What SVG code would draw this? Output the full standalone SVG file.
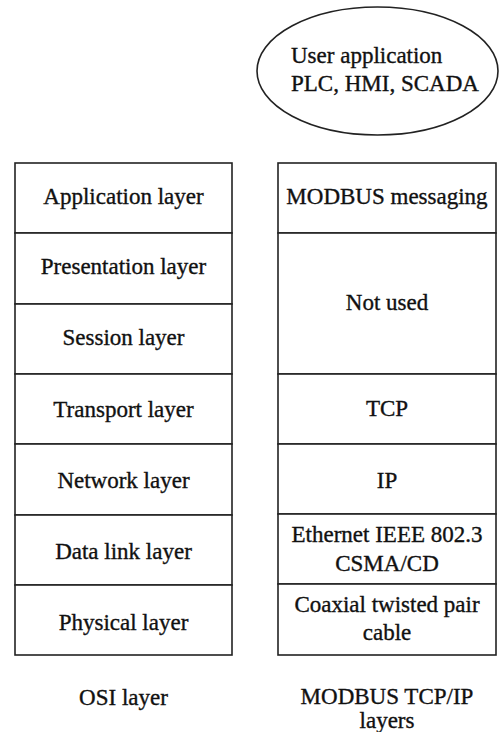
<svg xmlns="http://www.w3.org/2000/svg" width="499" height="732" viewBox="0 0 499 732">
<style>
.b{fill:#fff;stroke:#222;stroke-width:1.6}
text{font-family:'Liberation Serif','DejaVu Serif',serif;font-size:23px;fill:#111;stroke:#111;stroke-width:0.35;text-anchor:middle}
text.l{text-anchor:start}
</style>
<rect width="499" height="732" fill="#fff"/>
<g id="user-app">
<ellipse class="b" cx="377.5" cy="71" rx="120.5" ry="64"/>
<text class="l" x="291" y="63">User application</text>
<text class="l" x="291" y="91">PLC, HMI, SCADA</text>
</g>
<g id="osi">
<g id="osi-app"><rect class="b" x="15" y="163" width="217" height="70"/><text x="123.5" y="204">Application layer</text></g>
<g id="osi-pres"><rect class="b" x="15" y="233" width="217" height="71"/><text x="123.5" y="274">Presentation layer</text></g>
<g id="osi-sess"><rect class="b" x="15" y="304" width="217" height="70"/><text x="123.5" y="345">Session layer</text></g>
<g id="osi-trans"><rect class="b" x="15" y="374" width="217" height="70"/><text x="123.5" y="417">Transport layer</text></g>
<g id="osi-net"><rect class="b" x="15" y="444" width="217" height="71"/><text x="123.5" y="488">Network layer</text></g>
<g id="osi-dl"><rect class="b" x="15" y="515" width="217" height="70"/><text x="123.5" y="559">Data link layer</text></g>
<g id="osi-phy"><rect class="b" x="15" y="585" width="217" height="70"/><text x="123.5" y="630">Physical layer</text></g>
<text x="123.5" y="705">OSI layer</text>
</g>
<g id="modbus">
<g id="mb-msg"><rect class="b" x="278" y="163" width="218" height="70"/><text x="387" y="204">MODBUS messaging</text></g>
<g id="mb-notused"><rect class="b" x="278" y="233" width="218" height="141"/><text x="387" y="310">Not used</text></g>
<g id="mb-tcp"><rect class="b" x="278" y="374" width="218" height="70"/><text x="387" y="416">TCP</text></g>
<g id="mb-ip"><rect class="b" x="278" y="444" width="218" height="70"/><text x="387" y="488">IP</text></g>
<g id="mb-eth"><rect class="b" x="278" y="514" width="218" height="70"/><text x="387" y="542">Ethernet IEEE 802.3</text><text x="387" y="571">CSMA/CD</text></g>
<g id="mb-cable"><rect class="b" x="278" y="584" width="218" height="71"/><text x="387" y="612">Coaxial twisted pair</text><text x="387" y="640">cable</text></g>
<text x="387" y="704">MODBUS TCP/IP</text>
<text x="387" y="728">layers</text>
</g>
<g id="connectors"></g>
</svg>
